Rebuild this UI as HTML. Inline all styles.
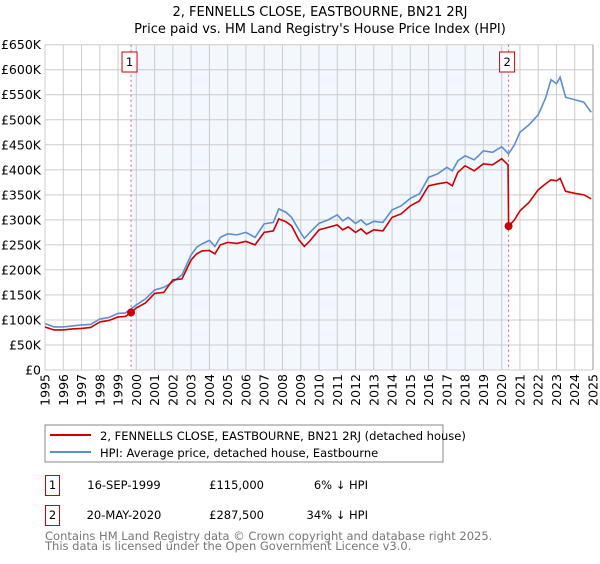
<!DOCTYPE html>
<html><head><meta charset="utf-8"><style>
body{margin:0;background:#fff;font-family:"DejaVu Sans","Liberation Sans",sans-serif;}
svg text{font-family:"DejaVu Sans","Liberation Sans",sans-serif;}
</style></head><body>
<svg id="chart" width="600" height="560" xmlns="http://www.w3.org/2000/svg">
<text x="320" y="16" font-size="13" text-anchor="middle">2, FENNELLS CLOSE, EASTBOURNE, BN21 2RJ</text>
<text x="320" y="33" font-size="13" text-anchor="middle">Price paid vs. HM Land Registry's House Price Index (HPI)</text>
<g id="plot"></g>
<g>
<rect x="45" y="425" width="398" height="37" fill="#fff" stroke="#888"/>
<line x1="50" y1="435" x2="91" y2="435" stroke="#cc0000" stroke-width="2"/>
<text x="100" y="440" font-size="11.5">2, FENNELLS CLOSE, EASTBOURNE, BN21 2RJ (detached house)</text>
<line x1="50" y1="452" x2="91" y2="452" stroke="#5b8fd0" stroke-width="2"/>
<text x="100" y="457" font-size="11.5">HPI: Average price, detached house, Eastbourne</text>
</g>
<g font-size="11.5">
<rect x="45.5" y="475.5" width="14" height="20" fill="none" stroke="#cc0000"/>
<text x="52.5" y="489" text-anchor="middle">1</text>
<text x="124" y="489" text-anchor="middle">16-SEP-1999</text>
<text x="264" y="489" text-anchor="end">£115,000</text>
<text x="368" y="489" text-anchor="end">6% ↓ HPI</text>
<rect x="45.5" y="505.5" width="14" height="20" fill="none" stroke="#cc0000"/>
<text x="52.5" y="519" text-anchor="middle">2</text>
<text x="124" y="519" text-anchor="middle">20-MAY-2020</text>
<text x="264" y="519" text-anchor="end">£287,500</text>
<text x="368" y="519" text-anchor="end">34% ↓ HPI</text>
</g>
<text x="45" y="540" font-size="11.5" fill="#777">Contains HM Land Registry data © Crown copyright and database right 2025.</text>
<text x="45" y="550" font-size="11.5" fill="#777">This data is licensed under the Open Government Licence v3.0.</text>
</svg>
<script>
const yTicks=[0,50,100,150,200,250,300,350,400,450,500,550,600,650];
const yTickLabels=["£0","£50K","£100K","£150K","£200K","£250K","£300K","£350K","£400K","£450K","£500K","£550K","£600K","£650K"];
const xTicks=[1995,1996,1997,1998,1999,2000,2001,2002,2003,2004,2005,2006,2007,2008,2009,2010,2011,2012,2013,2014,2015,2016,2017,2018,2019,2020,2021,2022,2023,2024,2025];
const hpiYears=[1995,1995.5,1996,1996.5,1997,1997.5,1998,1998.5,1999,1999.4,1999.71,2000,2000.5,2001,2001.5,2002,2002.5,2003,2003.3,2003.6,2004,2004.3,2004.6,2005,2005.5,2006,2006.5,2007,2007.5,2007.8,2008.2,2008.5,2008.9,2009.2,2009.5,2010,2010.5,2011,2011.3,2011.6,2012,2012.3,2012.6,2013,2013.5,2014,2014.5,2015,2015.5,2016,2016.5,2017,2017.3,2017.6,2018,2018.5,2019,2019.5,2020,2020.38,2020.7,2021,2021.5,2022,2022.4,2022.7,2023,2023.2,2023.5,2024,2024.5,2024.9];
const hpiValues=[93,86,86,88,90,91,102,105,113,114,122,130,142,160,165,176,190,230,245,252,259,247,265,272,270,275,265,292,295,322,315,305,280,263,275,293,300,310,298,305,293,300,290,297,295,320,328,343,352,385,392,405,398,418,428,420,438,435,446,432,450,475,490,510,543,580,572,585,545,540,535,515];
const ppYears=[1995,1995.5,1996,1996.5,1997,1997.5,1998,1998.5,1999,1999.4,1999.71,2000,2000.5,2001,2001.5,2002,2002.5,2003,2003.3,2003.6,2004,2004.3,2004.6,2005,2005.5,2006,2006.5,2007,2007.5,2007.8,2008.2,2008.5,2008.9,2009.2,2009.5,2010,2010.5,2011,2011.3,2011.6,2012,2012.3,2012.6,2013,2013.5,2014,2014.5,2015,2015.5,2016,2016.5,2017,2017.3,2017.6,2018,2018.5,2019,2019.5,2020,2020.35,2020.38,2020.7,2021,2021.5,2022,2022.4,2022.7,2023,2023.2,2023.5,2024,2024.5,2024.9];
const ppValues=[86,80,80,82,83,85,96,99,106,107,115,124,134,153,155,180,182,220,232,238,239,232,250,255,253,257,250,275,278,302,296,288,260,247,258,280,285,290,280,286,275,282,272,280,278,305,312,328,338,368,372,375,368,395,408,398,412,410,422,410,287.5,300,318,335,360,372,380,378,383,357,353,350,342];
const saleYears=[1999.71,2020.38];
const saleValues=[115,287.5];
const saleLabels=["1","2"];
const NS="http://www.w3.org/2000/svg";
const L=45,R=593,T=44.7,B=370;
const X=y=>L+(y-1995)*(R-L)/30;
const Y=v=>B-v*(B-T)/650;
const g=document.getElementById('plot');
function mk(tag,attrs,parent){const e=document.createElementNS(NS,tag);for(const k in attrs)e.setAttribute(k,attrs[k]);(parent||g).appendChild(e);return e;}
let e=mk('rect',{x:X(saleYears[0]),y:T,width:X(saleYears[1])-X(saleYears[0]),height:B-T,fill:'#eef3fd',opacity:'0.7'});


yTicks.forEach((v,i)=>{
 let l=mk('line',{x1:L,x2:R,y1:Y(v),y2:Y(v),stroke:'#cccccc','stroke-width':1});
 
 
 let t=mk('text',{x:41,y:Y(v)+4.5,'font-size':12.5,'text-anchor':'end'});
 t.textContent=yTickLabels[i];
 
 
});
xTicks.forEach(yr=>{
 let l=mk('line',{x1:X(yr),x2:X(yr),y1:T,y2:B,stroke:'#cccccc','stroke-width':1});
 
 
 let t=mk('text',{x:0,y:0,'font-size':12.5,'text-anchor':'end',transform:`translate(${X(yr)+4.5},374) rotate(-90)`});
 t.textContent=String(yr);
 
 
});
saleYears.forEach((yr,i)=>{
 let l=mk('line',{x1:X(yr),x2:X(yr),y1:T,y2:B,stroke:'#e06060','stroke-width':1,'stroke-dasharray':'2,3'});
 
 
 let r=mk('rect',{x:X(yr)-9,y:52,width:15,height:20,fill:'#fff',stroke:'#cc0000'});
 
 
 let t=mk('text',{x:X(yr)-1.5,y:66,'font-size':11.5,'text-anchor':'middle'});
 t.textContent=saleLabels[i];
 
 
});
let hp=mk('polyline',{points:hpiYears.map((y,i)=>X(y)+','+Y(hpiValues[i])).join(' '),fill:'none',stroke:'#5b8fd0','stroke-width':1.6});


let pp=mk('polyline',{points:ppYears.map((y,i)=>X(y)+','+Y(ppValues[i])).join(' '),fill:'none',stroke:'#cc0000','stroke-width':1.6});


saleYears.forEach((yr,i)=>{
 let c=mk('circle',{cx:X(yr),cy:Y(saleValues[i]),r:4,fill:'#cc0000'});
 
 
});
let ax=mk('line',{x1:R,x2:R,y1:T,y2:B,stroke:'#999','stroke-width':1});


</script>
</body></html>
